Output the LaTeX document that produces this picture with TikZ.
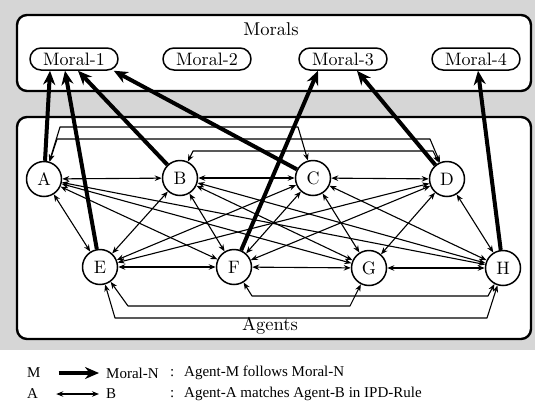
\documentclass[tikz,border=0pt]{standalone}
\usepackage{fontspec}
\newfontfamily\legendfont{Liberation Serif}
\newfontfamily\diagfont{lmroman10-regular}[Extension=.otf]
\usetikzlibrary{arrows.meta}

\begin{document}
\begin{tikzpicture}[yscale=-1, x=1pt, y=1pt, line join=round, line cap=round,
  agent/.style={circle, draw=layer0, line width=1.5pt, fill=white, minimum size=35pt, inner sep=0pt, font=\diagfont\fontsize{18}{18}\selectfont},
  moral/.style={draw=layer0, line width=1.5pt, rounded corners=11pt, fill=white, minimum width=88pt, minimum height=22pt, inner sep=0pt, font=\diagfont\fontsize{18}{18}\selectfont},
  group/.style={draw=layer0, line width=2.4pt, rounded corners=10pt, fill=white},
  title/.style={font=\diagfont\fontsize{18.5}{18.5}\selectfont},
  legend/.style={anchor=west, inner sep=0pt, font=\legendfont\fontsize{15}{15}\selectfont},
  match/.style={layer0, line width=1.1pt, {Stealth[length=7pt,width=5.5pt]}-{Stealth[length=7pt,width=5.5pt]}},
  follow/.style={layer0, line width=4pt, line cap=butt, -{Stealth[length=14pt,width=12pt]}}]
% Layer color definitions
\definecolor{layer0}{rgb}{0,0,0}
\definecolor{layer12}{rgb}{0.84,0.84,0.84}
% End of color definitions
\useasboundingbox (0,0) rectangle (535,407);
\fill[color=white] (0,0) rectangle (535,407);
\fill[color=layer12] (0,0) rectangle (535,350);
% Group boxes
\draw[group] (17,15) rectangle (531,91);
\draw[group] (17,117) rectangle (531,339);
\node[title] (morals) at (271,29) {Morals};
\node[title] (agents) at (270,326) {Agents};
% Morals
\node[moral] (m1) at (74,59) {Moral-1};
\node[moral] (m2) at (207,59) {Moral-2};
\node[moral] (m3) at (343,59) {Moral-3};
\node[moral] (m4) at (476,59) {Moral-4};
% Agents
\node[agent] (A) at (44,179) {A};
\node[agent] (B) at (180,178) {B};
\node[agent] (C) at (313,178) {C};
\node[agent] (D) at (447,179) {D};
\node[agent] (E) at (100,267) {E};
\node[agent] (F) at (234,267) {F};
\node[agent] (G) at (369,268) {G};
\node[agent] (H) at (503,268) {H};
% IPD matches, same row
\draw[match] (A) -- (B);
\draw[match] (B) -- (C);
\draw[match] (C) -- (D);
\draw[match] (E) -- (F);
\draw[match] (F) -- (G);
\draw[match] (G) -- (H);
% IPD matches, routed round the rows
\draw[match] (A) -- (60,127) -- (298,127) -- (C);
\draw[match] (A) -- (57,139) -- (430,139) -- (D);
\draw[match] (B) -- (193,151) -- (433,151) -- (D);
\draw[match] (F) -- (252,296) -- (488,296) -- (H);
\draw[match] (E) -- (128,306) -- (350,306) -- (G);
\draw[match] (E) -- (115,318) -- (487,318) -- (H);
% IPD matches, between the rows
\foreach \top in {A,B,C,D}
  \foreach \bot in {E,F,G,H}
    \draw[match] (\top) -- (\bot);
% Agents follow morals
\draw[follow] (A) -- ([xshift=-24pt]m1.south);
\draw[follow] (E) -- ([xshift=-9pt]m1.south);
\draw[follow] (B) -- ([xshift=4pt]m1.south);
\draw[follow] (C) -- ([xshift=-5pt]m1.south east);
\draw[follow] (F) -- ([xshift=-25pt]m3.south);
\draw[follow] (D) -- ([xshift=14pt]m3.south);
\draw[follow] (H) -- ([xshift=2pt]m4.south);
% Legend
\node[legend] (legM) at (27,373) {M};
\node[legend] (legN) at (106,373) {Moral-N};
\node[legend] (legC1) at (170,373) {:};
\node[legend] (legT1) at (184,373) {Agent-M follows Moral-N};
\node[legend] (legA) at (27,394) {A};
\node[legend] (legB) at (106,394) {B};
\node[legend] (legC2) at (170,394) {:};
\node[legend] (legT2) at (184,394) {Agent-A matches Agent-B in IPD-Rule};
\draw[follow] ([xshift=18pt]legM.east) -- ([xshift=-7pt]legN.west);
\draw[match] ([xshift=18pt]legA.east) -- ([xshift=-7pt]legB.west);
\end{tikzpicture}
\end{document}
